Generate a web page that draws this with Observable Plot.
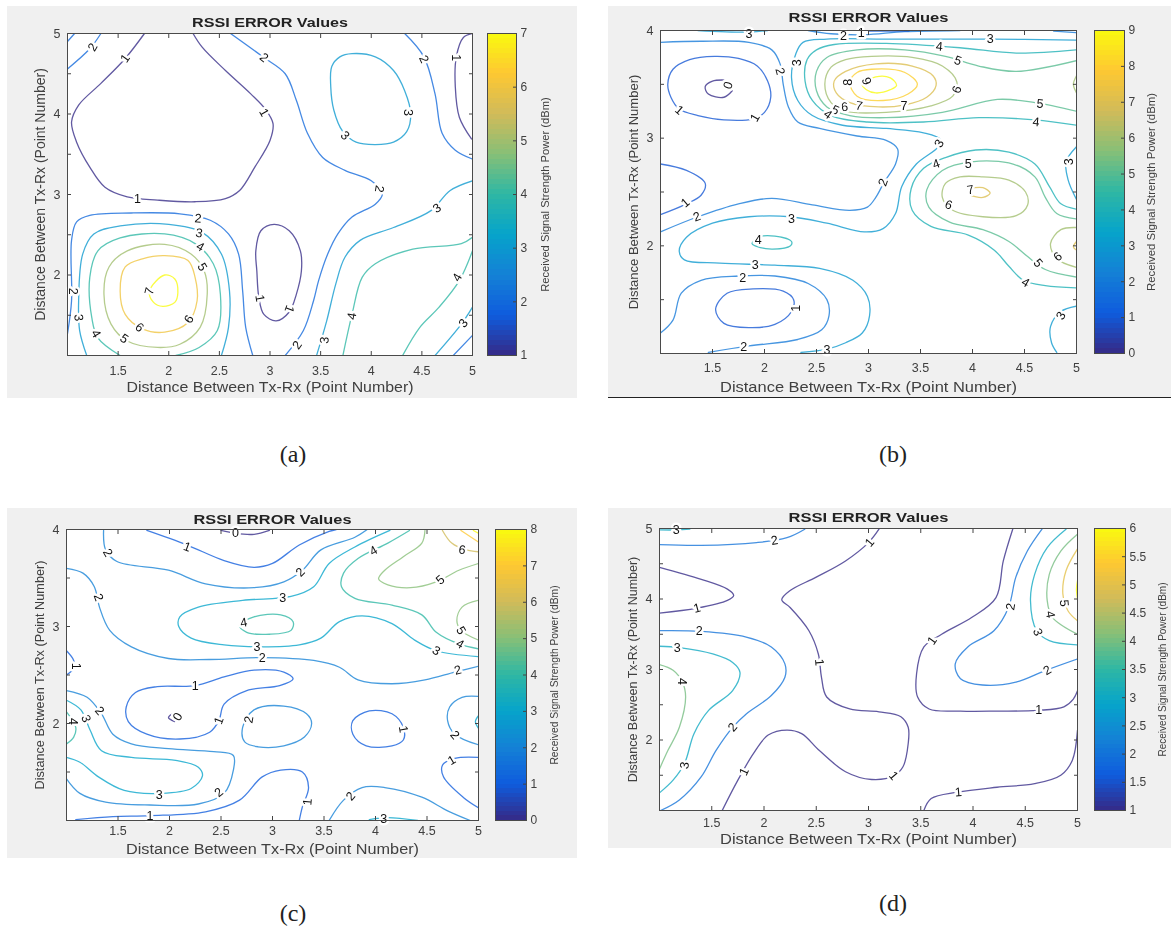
<!DOCTYPE html>
<html><head><meta charset="utf-8">
<script src="https://cdn.jsdelivr.net/npm/d3@7"></script>
<script src="https://cdn.jsdelivr.net/npm/@observablehq/plot@0.6"></script>
<style>
html,body{margin:0;background:#fff}
#page{position:relative;width:1171px;height:931px;overflow:hidden}
#page svg{position:absolute;filter:blur(.45px)}
.cap{position:absolute;font:24px "Liberation Serif",serif;color:#222;transform:translateX(-50%)}
.rule{position:absolute;background:#222;height:1px}
</style></head><body><div id="page"></div>
<script>
const titleText="RSSI ERROR Values";
const xAxisText="Distance Between Tx-Rx (Point Number)";
const yAxisText="Distance Between Tx-Rx (Point Number)";
const barText="Received Signal Strength Power (dBm)";
const parula=["#352a87","#0f5cdd","#1481d6","#06a4ca","#2eb7a4","#87bf77","#d1bb59","#fec832","#f9fb0e"];
const xTickLabels=[1.5,2,2.5,3,3.5,4,4.5,5];
const xTicks=[1,1.5,2,2.5,3,3.5,4,4.5,5];

// ---------- panel (a) ----------
const aOpen=[
[1,[[1.76,5],[1.57,4.69],[1.33,4.38],[1.11,4.11],[1.04,3.9],[1.09,3.65],[1.22,3.34],[1.37,3.09],[1.59,2.97],[1.89,2.93],[2.26,2.91],[2.56,2.95],[2.7,3.05],[2.85,3.34],[3,3.67],[3.03,3.88],[2.96,4.05],[2.81,4.25],[2.56,4.54],[2.33,4.83],[2.24,5]]],
[1,[[5,5],[4.91,4.95],[4.84,4.71],[4.83,4.34],[4.87,3.96],[4.99,3.69]]],
[2,[[1,4.9],[1.07,5]]],
[2,[[1,4.56],[1.22,4.81],[1.33,5]]],
[2,[[2.61,5],[2.93,4.71],[3.15,4.5],[3.26,4.17],[3.37,3.76],[3.52,3.46],[3.74,3.3],[4,3.17],[4.11,3.01],[4.04,2.88],[3.81,2.72],[3.67,2.51],[3.57,2.26],[3.48,1.93],[3.43,1.68],[3.33,1.31],[3.15,1]]],
[2,[[4.33,5],[4.52,4.71],[4.63,4.25],[4.7,3.76],[4.83,3.55],[5,3.44]]],
[3,[[5,3.17],[4.78,3.05],[4.59,2.8],[4.22,2.59],[3.89,2.43],[3.74,2.22],[3.65,1.89],[3.56,1.43],[3.46,1]]],
[4,[[5,2.47],[4.89,2.39],[4.41,2.32],[4.04,2.14],[3.91,1.97],[3.81,1.51],[3.72,1]]],
[4,[[5,2.3],[4.87,1.93],[4.67,1.6],[4.48,1.35],[4.31,1]]],
[3,[[5,1.6],[4.89,1.39],[4.63,1]]],
[2,[[5,1.25],[4.81,1]]],
[2,[[1,1.27],[1.04,1.68],[1.04,2.43],[1.09,2.66],[1.22,2.74],[1.63,2.77],[2.11,2.76],[2.41,2.68],[2.59,2.51],[2.69,2.26],[2.73,1.8],[2.76,1.35],[2.83,1]]],
[3,[[1.19,1],[1.12,1.31],[1.11,1.68],[1.15,2.26],[1.26,2.51],[1.52,2.61],[2,2.63],[2.33,2.53],[2.52,2.26],[2.6,1.8],[2.59,1.35],[2.52,1]]],
[4,[[1.52,1],[1.3,1.22],[1.24,1.47],[1.22,1.97],[1.3,2.3],[1.52,2.46],[1.96,2.51],[2.26,2.39],[2.44,2.14],[2.51,1.76],[2.48,1.31],[2.3,1.1],[2.07,1]]]
];
const aLoops=[
[3,[[3.81,4.75],[4.04,4.71],[4.22,4.54],[4.33,4.29],[4.39,4],[4.35,3.78],[4.22,3.65],[4.04,3.62],[3.85,3.65],[3.72,3.78],[3.63,4.05],[3.6,4.34],[3.61,4.59],[3.69,4.71]]],
[1,[[3.04,2.63],[3.19,2.55],[3.3,2.3],[3.31,2.05],[3.26,1.76],[3.19,1.54],[3.06,1.43],[2.94,1.51],[2.89,1.72],[2.87,2.05],[2.86,2.3],[2.91,2.55]]],
[5,[[1.96,2.38],[2.22,2.26],[2.35,2.05],[2.38,1.76],[2.31,1.35],[2.11,1.14],[1.89,1.1],[1.59,1.18],[1.43,1.39],[1.36,1.76],[1.41,2.1],[1.59,2.3]]],
[6,[[1.96,2.24],[2.19,2.18],[2.26,1.97],[2.28,1.68],[2.19,1.41],[1.96,1.29],[1.74,1.33],[1.57,1.51],[1.52,1.8],[1.57,2.1],[1.74,2.2]]],
[7,[[1.81,1.8],[1.96,2],[2.06,1.95],[2.09,1.78],[2.06,1.66],[1.94,1.61],[1.85,1.66]]]
];
const aLabels=[[1.25,4.83,2,-60],[1.57,4.69,1,-55],[2.94,4.02,1,60],[1.69,2.95,1,0],[2.94,4.7,2,40],[4.36,4.02,3,90],[3.74,3.73,3,45],[4.52,4.68,2,65],[4.84,4.7,1,90],[4.08,3.07,2,100],[4.65,2.83,3,-35],[4.85,1.97,4,-60],[4.91,1.4,3,-50],[3.81,1.49,4,-80],[3.54,1.19,3,-85],[3.27,1.13,2,-55],[3.19,1.58,1,110],[2.9,1.71,1,80],[2.29,2.7,2,5],[2.3,2.52,3,10],[2.31,2.35,4,30],[2.33,2.1,5,60],[2.2,1.45,6,-60],[1.71,1.35,6,40],[1.56,1.21,5,35],[1.28,1.27,4,60],[1.11,1.47,3,85],[1.05,1.8,2,90],[1.81,1.8,7,-75]];

// ---------- panel (b) ----------
const bOpen=[
[2,[[1,3.89],[1.39,3.9],[1.85,3.89],[2.07,3.82],[2.15,3.69],[2.18,3.5],[2.23,3.29],[2.32,3.15],[2.53,3.09],[2.89,3.02],[3.17,2.98],[3.28,2.9],[3.26,2.76],[3.15,2.59],[3.07,2.45],[2.99,2.36],[2.82,2.33],[2.46,2.38],[2.07,2.44],[1.75,2.39],[1.36,2.27],[1,2.13]]],
[3,[[5,3.91],[4.17,3.92],[3.17,3.92],[2.6,3.92],[2.37,3.89],[2.3,3.78],[2.26,3.56],[2.32,3.35],[2.46,3.21],[2.75,3.12],[3.17,3.09],[3.53,3.05],[3.69,2.99],[3.67,2.92],[3.46,2.76],[3.32,2.55],[3.26,2.3],[3.14,2.16],[2.96,2.13],[2.6,2.21],[2.25,2.27],[1.85,2.27],[1.5,2.21],[1.25,2.08],[1.18,1.95],[1.23,1.87],[1.57,1.84],[2.1,1.82],[2.53,1.79],[2.85,1.68],[2.99,1.53],[3.01,1.35],[2.94,1.19],[2.78,1.1],[2.6,1.04],[2.35,1.01]]],
[2,[[1,1.19],[1.12,1.31],[1.2,1.56],[1.39,1.68],[1.75,1.72],[2.1,1.72],[2.42,1.65],[2.6,1.5],[2.62,1.35],[2.55,1.22],[2.32,1.13],[1.85,1.07],[1.46,1.01]]],
[1,[[1,2.76],[1.25,2.7],[1.43,2.58],[1.39,2.47],[1.25,2.39],[1,2.29]]],
[4,[[5,3.82],[4.42,3.79],[3.88,3.84],[3.17,3.88],[2.67,3.87],[2.5,3.82],[2.41,3.73],[2.39,3.53],[2.46,3.35],[2.64,3.21],[2.99,3.15],[3.53,3.15],[4.06,3.19],[4.6,3.17],[5,3.12]]],
[5,[[5,3.72],[4.42,3.62],[4.06,3.67],[3.74,3.76],[3.35,3.82],[2.89,3.82],[2.6,3.75],[2.5,3.62],[2.5,3.44],[2.6,3.29],[2.82,3.21],[3.17,3.19],[3.71,3.24],[4.24,3.36],[4.6,3.33],[5,3.25]]],
[3,[[5,2.92],[4.9,2.78],[4.92,2.61],[5,2.43]]],
[4,[[5,2.34],[4.85,2.39],[4.74,2.55],[4.6,2.76],[4.35,2.87],[4.03,2.89],[3.74,2.82],[3.53,2.72],[3.41,2.53],[3.42,2.33],[3.6,2.18],[3.96,2.1],[4.21,1.96],[4.35,1.81],[4.49,1.68],[4.7,1.63],[5,1.61]]],
[5,[[5,2.25],[4.81,2.3],[4.7,2.45],[4.6,2.64],[4.39,2.76],[3.99,2.78],[3.71,2.7],[3.56,2.52],[3.58,2.36],[3.78,2.22],[4.1,2.15],[4.35,2.04],[4.53,1.9],[4.7,1.78],[5,1.71]]],
[7,[[3.96,2.53],[4.1,2.54],[4.17,2.49],[4.1,2.45],[3.97,2.47]]],
[6,[[5,2.17],[4.85,2.15],[4.75,2.02],[4.81,1.88],[5,1.8]]],
[7,[[5,2.04],[4.97,1.99],[5,1.96]]],
[6,[[5,3.58],[4.97,3.5],[5,3.42]]],
[3,[[5,1.44],[4.85,1.39],[4.75,1.25],[4.76,1.1],[4.81,1.01]]],
[3,[[1.36,4],[1.85,3.985],[2.03,4]]],
[2,[[2.42,4],[2.64,3.97],[2.96,3.96],[3.35,3.99],[3.88,4]]],
[1,[[3,3.995],[3.39,3.995]]],
[2,[[4.78,3.995],[5,3.98]]],
[0,[[1.69,3.44],[1.61,3.38],[1.46,3.41],[1.43,3.48],[1.5,3.53],[1.61,3.54]]]
];
const bLoops=[
[1,[[1.52,3.76],[1.75,3.74],[1.93,3.67],[2.03,3.53],[2.06,3.38],[2,3.24],[1.89,3.18],[1.61,3.17],[1.36,3.21],[1.18,3.27],[1.1,3.38],[1.07,3.5],[1.12,3.64],[1.28,3.73]]],
[1,[[2.28,1.5],[2.18,1.58],[1.89,1.6],[1.64,1.56],[1.53,1.41],[1.61,1.28],[1.85,1.24],[2.1,1.27],[2.26,1.39]]],
[4,[[1.94,2.08],[2.1,2.09],[2.26,2.04],[2.25,2],[2.07,1.97],[1.91,2],[1.88,2.02]]],
[6,[[3.03,3.76],[3.42,3.75],[3.71,3.67],[3.85,3.52],[3.81,3.39],[3.6,3.3],[3.17,3.24],[2.78,3.25],[2.64,3.33],[2.58,3.5],[2.64,3.66],[2.78,3.73]]],
[7,[[3.07,3.69],[3.42,3.67],[3.62,3.58],[3.65,3.49],[3.56,3.38],[3.35,3.31],[3.1,3.29],[2.82,3.33],[2.69,3.42],[2.67,3.53],[2.78,3.62]]],
[8,[[3.03,3.64],[3.35,3.61],[3.47,3.5],[3.38,3.41],[3.14,3.35],[2.89,3.39],[2.82,3.52],[2.89,3.61]]],
[9,[[2.94,3.5],[3.07,3.57],[3.21,3.56],[3.27,3.49],[3.21,3.45],[3.07,3.42],[2.98,3.45]]],
[6,[[4.1,2.64],[4.35,2.61],[4.51,2.5],[4.53,2.38],[4.42,2.28],[4.1,2.27],[3.81,2.33],[3.71,2.45],[3.74,2.58],[3.88,2.64]]]
];
const bLabels=[[1.65,3.49,0,-70],[1.85,3.97,3,0],[2.76,3.95,2,0],[2.93,3.98,1,0],[4.17,3.92,3,0],[3.68,3.85,4,5],[3.86,3.72,5,20],[3.85,3.45,6,-70],[2.31,3.7,3,-90],[2.15,3.62,2,75],[1.18,3.26,1,40],[1.91,3.19,1,-60],[2.8,3.52,8,-90],[2.98,3.53,9,70],[2.77,3.29,6,-5],[2.68,3.26,5,25],[2.61,3.22,4,35],[2.91,3.3,7,10],[3.34,3.3,7,0],[4.65,3.32,5,5],[4.61,3.15,4,5],[3.68,2.95,3,-60],[3.14,2.59,2,-70],[3.65,2.76,4,-20],[3.96,2.76,5,0],[3.98,2.52,7,-10],[3.77,2.38,6,20],[4.93,2.78,3,-90],[1.24,2.4,1,-40],[1.35,2.27,2,-20],[2.26,2.25,3,0],[1.94,2.05,4,0],[1.91,1.82,3,0],[1.79,1.7,2,0],[2.3,1.42,1,-90],[1.8,1.06,2,0],[2.6,1.03,3,0],[4.85,1.35,3,-60],[4.63,1.84,5,50],[4.82,1.9,6,-40],[4.51,1.66,4,30]];

// ---------- panel (c) ----------
const cOpen=[
[0,[[2.5,3.99],[2.64,3.96],[2.82,3.95],[2.97,3.99]]],
[1,[[1.78,3.99],[2.17,3.84],[2.53,3.68],[2.82,3.61],[3,3.65],[3.26,3.84],[3.55,3.98],[3.62,4]]],
[2,[[1.36,3.99],[1.38,3.79],[1.49,3.67],[1.99,3.58],[2.35,3.44],[2.82,3.4],[3.11,3.46],[3.29,3.58],[3.47,3.79],[3.8,3.92],[3.92,4]]],
[2,[[1,3.6],[1.16,3.55],[1.27,3.41],[1.32,3.2],[1.42,2.96],[1.63,2.79],[1.99,2.67],[2.39,2.66],[2.9,2.68],[3.4,2.65],[3.65,2.58],[3.83,2.45],[4.16,2.41],[4.48,2.45],[4.77,2.53],[5,2.59]]],
[3,[[4.14,3.99],[3.8,3.82],[3.55,3.65],[3.4,3.41],[3.18,3.31],[2.71,3.27],[2.28,3.2],[2.1,3.1],[2.09,3],[2.21,2.88],[2.53,2.81],[2.9,2.79],[3.26,2.81],[3.47,2.88],[3.65,3.05],[3.87,3.11],[4.16,3.03],[4.38,2.86],[4.59,2.75],[5,2.69]]],
[4,[[4.33,3.99],[4.12,3.86],[3.83,3.7],[3.69,3.55],[3.67,3.41],[3.8,3.29],[4.16,3.22],[4.45,3.12],[4.59,2.94],[4.81,2.82],[5,2.77]]],
[5,[[4.48,3.99],[4.45,3.86],[4.27,3.72],[4.09,3.58],[4.03,3.49],[4.12,3.43],[4.34,3.4],[4.59,3.46],[4.81,3.58],[5,3.65]]],
[5,[[5,3.27],[4.84,3.2],[4.79,3.06],[4.83,2.96],[5,2.86]]],
[6,[[4.65,3.99],[4.74,3.86],[4.88,3.79],[5,3.77]]],
[7,[[4.83,3.99],[5,3.87]]],
[8,[[4.95,3.99],[5,3.96]]],
[1,[[1,2.75],[1.07,2.65],[1.07,2.57],[1,2.5]]],
[2,[[1,2.34],[1.2,2.27],[1.34,2.1],[1.45,1.89],[1.63,1.79],[1.99,1.74],[2.43,1.71],[2.62,1.67],[2.62,1.52],[2.53,1.28],[2.28,1.17],[1.81,1.16],[1.38,1.19],[1.13,1.28],[1,1.43]]],
[3,[[1,2.24],[1.14,2.14],[1.23,1.93],[1.34,1.72],[1.63,1.65],[2.06,1.62],[2.28,1.55],[2.32,1.46],[2.21,1.33],[1.92,1.28],[1.56,1.31],[1.31,1.45],[1.13,1.6],[1,1.65]]],
[4,[[1,2.12],[1.09,1.96],[1.07,1.86],[1,1.79]]],
[1,[[1.09,1.01],[1.45,1.04],[1.81,1.05],[2.35,1.09],[2.68,1.21],[2.9,1.45],[3.08,1.52],[3.29,1.5],[3.35,1.34],[3.29,1.14],[3.26,1]]],
[0,[[2.09,2.1],[2.03,2.1],[1.99,2.06],[2.05,2.02]]],
[2,[[5,2.28],[4.84,2.27],[4.72,2.17],[4.7,2.03],[4.77,1.89],[5,1.78]]],
[3,[[5,2.08],[4.97,2.02],[5,1.95]]],
[1,[[5,1.65],[4.77,1.64],[4.65,1.57],[4.66,1.45],[4.85,1.24],[5,1.13]]],
[2,[[3.55,1],[3.69,1.21],[3.87,1.34],[4.09,1.34],[4.45,1.24],[4.7,1.1],[4.92,1]]],
[3,[[3.94,1.01],[4.12,1.03],[4.41,1]]]
];
const cLoops=[
[4,[[2.82,3.1],[3.08,3.12],[3.2,3.05],[3.18,2.96],[2.97,2.92],[2.75,2.94],[2.68,3.01]]],
[1,[[3.2,2.46],[3.11,2.53],[2.82,2.55],[2.53,2.48],[2.25,2.39],[1.88,2.38],[1.67,2.32],[1.58,2.17],[1.6,2.02],[1.78,1.89],[2.1,1.84],[2.39,1.91],[2.48,2.03],[2.53,2.2],[2.75,2.34],[3.07,2.39]]],
[2,[[2.82,2.14],[3.11,2.18],[3.33,2.1],[3.38,2],[3.31,1.86],[3.11,1.77],[2.86,1.76],[2.73,1.81],[2.71,1.96]]],
[1,[[3.94,2.13],[4.16,2.1],[4.27,1.96],[4.27,1.83],[4.16,1.77],[3.91,1.77],[3.78,1.89],[3.78,2.03]]]
];
const cLabels=[[2.64,3.96,0,0],[2.17,3.82,1,20],[1.4,3.76,2,60],[3.27,3.56,2,-45],[3.98,3.78,4,-30],[4.84,3.79,6,10],[4.63,3.48,5,-40],[1.31,3.3,2,70],[3.1,3.29,3,0],[2.72,3.04,4,-10],[2.85,2.79,3,0],[2.9,2.68,2,0],[4.83,2.96,5,60],[4.82,2.82,4,30],[4.59,2.75,3,30],[4.8,2.55,2,-15],[1.09,2.59,1,90],[2.25,2.39,1,0],[2.08,2.07,0,-60],[2.48,2.03,1,-70],[2.77,2.04,2,-80],[1.32,2.13,2,50],[1.19,2.05,3,70],[1.06,2.02,4,90],[4.27,1.94,1,80],[4.77,1.88,2,50],[4.74,1.62,1,-30],[1.9,1.26,3,0],[2.48,1.29,2,-40],[1.81,1.05,1,0],[3.34,1.19,1,-85],[3.76,1.25,2,-50],[4.08,1.02,3,0]];

// ---------- panel (d) ----------
const dOpen=[
[3,[[1,4.98],[1.17,4.98],[1.29,4.99]]],
[2,[[1,4.77],[1.4,4.76],[1.93,4.8],[2.22,4.87],[2.39,4.99]]],
[1,[[3.1,4.99],[3,4.8],[2.78,4.54],[2.5,4.31],[2.25,4.12],[2.17,3.99],[2.25,3.88],[2.43,3.55],[2.52,3.22],[2.55,2.89],[2.6,2.61],[2.82,2.44],[3.1,2.4],[3.31,2.33],[3.38,2.18],[3.38,1.95],[3.33,1.62],[3.24,1.49],[3.03,1.44],[2.78,1.55],[2.53,1.85],[2.36,2.09],[2.22,2.14],[2.04,2.07],[1.9,1.81],[1.75,1.43],[1.6,1]]],
[1,[[1,4.45],[1.4,4.28],[1.65,4.14],[1.71,4.05],[1.65,3.98],[1.36,3.87],[1,3.8]]],
[2,[[1,3.55],[1.4,3.54],[1.83,3.46],[2.07,3.32],[2.2,3.08],[2.2,2.89],[2.07,2.63],[1.83,2.37],[1.7,2.18],[1.54,1.85],[1.4,1.48],[1.19,1.15],[1.01,1]]],
[3,[[1,3.33],[1.19,3.31],[1.51,3.22],[1.7,3.1],[1.77,2.96],[1.7,2.7],[1.47,2.42],[1.33,2.09],[1.24,1.67],[1.13,1.43],[1,1.25]]],
[4,[[1,3.07],[1.13,2.99],[1.22,2.82],[1.25,2.61],[1.19,2.18],[1.08,1.85],[1,1.59]]],
[1,[[4.38,4.99],[4.29,4.54],[4.22,4.02],[3.99,3.74],[3.7,3.5],[3.53,3.32],[3.46,2.94],[3.47,2.61],[3.58,2.44],[3.88,2.41],[4.23,2.41],[4.62,2.42],[4.87,2.47],[4.96,2.58],[5,2.7]]],
[2,[[4.66,4.99],[4.52,4.68],[4.41,4.31],[4.34,3.88],[4.2,3.55],[3.95,3.32],[3.83,3.08],[3.88,2.87],[4.09,2.78],[4.41,2.82],[4.7,2.99],[5,3.15]]],
[3,[[4.89,4.99],[4.71,4.73],[4.59,4.35],[4.55,3.98],[4.61,3.55],[4.73,3.41],[5,3.35]]],
[4,[[5,4.92],[4.84,4.68],[4.73,4.35],[4.71,3.98],[4.76,3.74],[5,3.5]]],
[5,[[5,4.71],[4.89,4.4],[4.86,4.07],[4.91,3.83],[5,3.69]]],
[6,[[5,4.26],[4.99,4.14],[5,4]]],
[1,[[3.53,1],[3.6,1.17],[3.85,1.26],[4.23,1.33],[4.59,1.38],[4.84,1.5],[4.95,1.71],[5,2.14]]]
];
const dLoops=[];
const dLabels=[[1.16,4.98,3,0],[2.1,4.83,2,-10],[3.01,4.8,1,-50],[1.36,3.87,1,-15],[1.38,3.54,2,0],[1.17,3.31,3,0],[1.22,2.83,4,90],[1.24,1.64,3,-80],[1.7,2.18,2,-50],[1.81,1.55,1,-65],[2.53,3.1,1,85],[3.24,1.49,1,50],[3.61,3.41,1,-55],[4.36,3.89,2,-80],[4.62,3.53,3,70],[4.74,3.78,4,80],[4.87,3.94,5,85],[4.71,2.99,2,-30],[4.63,2.42,1,0],[3.86,1.26,1,-5]];

const aBarTicks=[1,2,3,4,5,6,7];
const bBarTicks=[0,1,2,3,4,5,6,7,8,9];
const cBarTicks=[0,1,2,3,4,5,6,7,8];
const dBarTicks=[1,1.5,2,2.5,3,3.5,4,4.5,5,5.5,6];

const page=document.getElementById("page");
const ramp=d3.piecewise(d3.interpolateRgb,parula);
const rows=(list,tag)=>list.flatMap(([level,pts],i)=>pts.map(([x,y])=>({x,y,level,id:tag+i})));
// The source picture is stretched sideways: stretch the long horizontal texts to the same run.
function stretch(svg,cls,len){
  svg.querySelectorAll("g."+cls+" text, ."+cls+" text").forEach(t=>{
    t.setAttribute("textLength",len);t.setAttribute("lengthAdjust","spacingAndGlyphs");
  });
}

function panel(o){
  const bw=o.bg[2], bh=o.bg[3];
  const [ax0,ay0,ax1,ay1]=o.axes;
  const yTicks=d3.range(1,o.yMax+.01,.5);
  const yLabels=d3.range(2,o.yMax+.01,1);
  const colorOpts={type:"linear",domain:[o.barTicks[0],o.barTicks[o.barTicks.length-1]],interpolate:()=>ramp};
  const tickCol="#444";
  const chart=Plot.plot({
    width:bw,height:bh,
    marginLeft:ax0-o.bg[0],marginTop:ay0-o.bg[1],marginRight:o.bg[0]+bw-ax1,marginBottom:o.bg[1]+bh-ay1,
    style:{background:"#f0f0f0",fontFamily:"'Liberation Sans',Arial,sans-serif",left:o.bg[0]+"px",top:o.bg[1]+"px",overflow:"visible"},
    x:{domain:[1,5],label:null},
    y:{domain:[1,o.yMax],label:null},
    color:colorOpts,
    marks:[
      Plot.frame({fill:"#fff"}),
      Plot.line(rows(o.open,"o"),{x:"x",y:"y",z:"id",stroke:"level",strokeWidth:1.3,strokeOpacity:.78,curve:"catmull-rom",clip:true}),
      Plot.line(rows(o.loops,"l"),{x:"x",y:"y",z:"id",stroke:"level",strokeWidth:1.3,strokeOpacity:.78,curve:"catmull-rom-closed",clip:true}),
      Plot.text(o.labels,{x:d=>d[0],y:d=>d[1],text:d=>String(d[2]),rotate:d=>d[3],fill:"#111",stroke:"#fff",strokeWidth:5,fontSize:12.5}),
      Plot.axisX(xTicks,{anchor:"bottom",tickSize:-4,text:null,label:null,stroke:tickCol}),
      Plot.axisX(xTicks,{anchor:"top",tickSize:-4,text:null,label:null,stroke:tickCol}),
      Plot.axisY(yTicks,{anchor:"left",tickSize:-4,text:null,label:null,stroke:tickCol}),
      Plot.axisY(yTicks,{anchor:"right",tickSize:-4,text:null,label:null,stroke:tickCol}),
      Plot.axisX(xTickLabels,{anchor:"bottom",tickSize:0,tickPadding:o.xTickPad,label:null,fontSize:12.5,fill:"#404040",tickFormat:d=>String(d)}),
      Plot.axisY(yLabels,{anchor:"left",tickSize:0,tickPadding:7,label:null,fontSize:12.5,fill:"#404040",tickFormat:d=>String(d)}),
      Plot.frame({stroke:"#4a4a4a",strokeWidth:1}),
      Plot.text([titleText],{frameAnchor:"top",dy:o.titleDy,fontWeight:"bold",fontSize:13.5,fill:"#222",className:"tt"}),
      Plot.text([xAxisText],{frameAnchor:"bottom",dy:o.xLabelDy,fontSize:14,fill:"#404040",className:"xl"}),
      Plot.text([yAxisText],{frameAnchor:"left",textAnchor:"middle",rotate:-90,dx:-27,fontSize:o.yFont,fill:"#404040"})
    ]
  });
  stretch(chart,"tt",o.titleLen);
  stretch(chart,"xl",o.xLen);
  page.appendChild(chart);
  const min=colorOpts.domain[0],max=colorOpts.domain[1],step=(max-min)/64;
  const bands=d3.range(64).map(i=>min+i*step);
  const [bx0,bx1]=o.bar;
  const barW=bx1-bx0+70;
  const bar=Plot.plot({
    width:barW,height:ay1-ay0+2,marginLeft:0,marginRight:70,marginTop:1,marginBottom:1,
    style:{background:"transparent",fontFamily:"'Liberation Sans',Arial,sans-serif",left:bx0+"px",top:(ay0-1)+"px",overflow:"visible"},
    x:{domain:[0,1],axis:null},
    y:{domain:[min,max],label:null},
    color:colorOpts,
    marks:[
      Plot.rect(bands,{x1:0,x2:1,y1:d=>d,y2:d=>d+step,fill:d=>d+step/2,shapeRendering:"crispEdges"}),
      Plot.axisY(o.barTicks,{anchor:"right",tickSize:-4,tickPadding:8,label:null,fontSize:12,fill:"#404040",stroke:"#444",tickFormat:d=>String(d)}),
      Plot.frame({stroke:"#4a4a4a"}),
      Plot.text([barText],{frameAnchor:"right",textAnchor:"middle",rotate:-90,dx:o.barLabelDx,fontSize:o.barFont,fill:"#404040"})
    ]
  });
  page.appendChild(bar);
}

panel({bg:[7,6,570,392],axes:[67,33,472,355],yMax:5,open:aOpen,loops:aLoops,labels:aLabels,barTicks:aBarTicks,bar:[487,516],titleDy:-16,titleLen:156,xLabelDy:36,xLen:287,xTickPad:11,yFont:14,barFont:11.2,barLabelDx:29});
panel({bg:[608,6,563,391],axes:[660,30,1076,353],yMax:4,open:bOpen,loops:bLoops,labels:bLabels,barTicks:bBarTicks,bar:[1094,1124],titleDy:-18,titleLen:160,xLabelDy:38,xLen:297,xTickPad:10,yFont:13,barFont:11.4,barLabelDx:27});
panel({bg:[7,508,570,350],axes:[66,529,478,820],yMax:4,open:cOpen,loops:cLoops,labels:cLabels,barTicks:cBarTicks,bar:[495,526],titleDy:-15,titleLen:158,xLabelDy:33,xLen:293,xTickPad:6,yFont:12.7,barFont:10.3,barLabelDx:28});
panel({bg:[608,508,563,340],axes:[659,528,1077,810],yMax:5,open:dOpen,loops:dLoops,labels:dLabels,barTicks:dBarTicks,bar:[1094,1125],titleDy:-16,titleLen:160,xLabelDy:33,xLen:297,xTickPad:8,yFont:12.5,barFont:10,barLabelDx:37});

const lineEl=document.createElement("div");
lineEl.className="rule";lineEl.style.cssText="left:608px;top:397px;width:563px";
page.appendChild(lineEl);
[["(a)",293,441],["(b)",893,441],["(c)",293,900],["(d)",893,890]].forEach(([t,x,y])=>{
  const c=document.createElement("div");c.className="cap";c.textContent=t;c.style.left=x+"px";c.style.top=y+"px";page.appendChild(c);
});
</script></body></html>
